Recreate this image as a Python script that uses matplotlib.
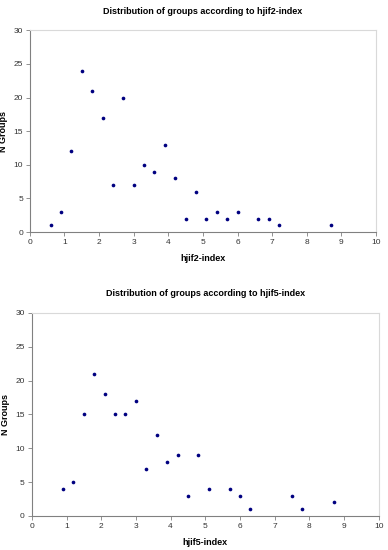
import matplotlib
matplotlib.use("Agg")
import matplotlib.pyplot as plt

plt.rcParams['font.family'] = ['Liberation Sans', 'DejaVu Sans']

x_hjif2 = [0.6, 0.9, 1.2, 1.5, 1.8, 2.1, 2.4, 2.7, 3.0, 3.3, 3.6, 3.9, 4.2, 4.5, 4.8, 5.1, 5.4, 5.7, 6.0, 6.6, 6.9, 7.2, 8.7]
n_hjif2 = [1, 3, 12, 24, 21, 17, 7, 20, 7, 10, 9, 13, 8, 2, 6, 2, 3, 2, 3, 2, 2, 1, 1]

x_hjif5 = [0.9, 1.2, 1.5, 1.8, 2.1, 2.4, 2.7, 3.0, 3.3, 3.6, 3.9, 4.2, 4.5, 4.8, 5.1, 5.7, 6.0, 6.3, 7.5, 7.8, 8.7]
n_hjif5 = [4, 5, 15, 21, 18, 15, 15, 17, 7, 12, 8, 9, 3, 9, 4, 4, 3, 1, 3, 1, 2]

titles = ["Distribution of groups according to hjif2-index",
          "Distribution of groups according to hjif5-index"]
xlabels = ["hjif2-index", "hjif5-index"]

fig = plt.figure(figsize=(3.88, 5.5), dpi=100)
positions = [[0.077, 0.578, 0.892, 0.367], [0.082, 0.062, 0.894, 0.369]]
datasets = [(x_hjif2, n_hjif2), (x_hjif5, n_hjif5)]

for pos, (xs, ys), title, xl in zip(positions, datasets, titles, xlabels):
    ax = fig.add_axes(pos)
    ax.scatter(xs, ys, s=7, color='#000080', zorder=3, linewidths=0)
    ax.set_xlim(0, 10)
    ax.set_ylim(0, 30)
    ax.set_xticks(range(0, 11))
    ax.set_yticks(range(0, 31, 5))
    for side in ['left', 'bottom']:
        ax.spines[side].set_color('#808080')
        ax.spines[side].set_linewidth(0.8)
    for side in ['top', 'right']:
        ax.spines[side].set_color('#d9d9d9')
        ax.spines[side].set_linewidth(0.8)
    ax.tick_params(axis='both', direction='out', length=3, width=0.6, color='#808080',
                   labelsize=6, labelcolor='#333333', pad=2)
    ax.set_xlabel(xl, fontsize=6.5, fontweight='bold', labelpad=6)
    ax.set_ylabel("N Groups", fontsize=6.5, fontweight='bold', labelpad=4)
    ax.set_title(title, fontsize=6.5, fontweight='bold', pad=12)

fig.savefig("out.png", dpi=100)
